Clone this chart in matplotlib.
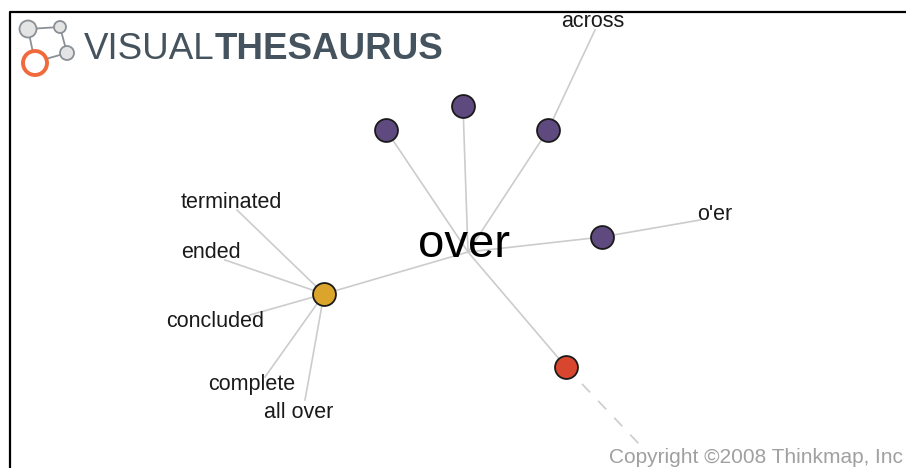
import matplotlib.pyplot as plt
from matplotlib.patches import Circle

plt.rcParams['font.family'] = ['Liberation Sans', 'DejaVu Sans']

# word graph data (pixel coords, y down)
center_word = "over"
center_xy = (468, 252)

node_x = [386, 463, 548, 602, 324, 566]
node_y = [130, 106, 130, 237, 294, 367]
node_colors = ["#5e4a7e", "#5e4a7e", "#5e4a7e", "#5e4a7e", "#dba52c", "#d9462f"]

# leaf words: (parent node index, label, label x, label baseline y, edge end x, edge end y)
leaf_parent = [2, 3, 4, 4, 4, 4, 4]
leaf_words = ["across", "o'er", "terminated", "ended", "concluded", "complete", "all over"]
leaf_x = [593, 715, 231, 211, 215, 252, 299]
leaf_y = [27, 220, 208, 258, 327, 390, 418]
edge_end_x = [595, 700, 237, 225, 250, 265, 305]
edge_end_y = [30, 220, 210, 260, 315, 377, 400]

# dashed edge leaving the red node
dash_end = (640, 445)

edge_col = "#cccccc"

fig = plt.figure(figsize=(9.06, 4.68), dpi=100)
ax = fig.add_axes([0, 0, 1, 1])
ax.set_xlim(0, 906)
ax.set_ylim(468, 0)
ax.axis('off')

# frame
ax.plot([10, 10, 906], [468, 12, 12], color='black', lw=1.6, solid_capstyle='butt', zorder=1)

# edges from centre
for x, y in zip(node_x, node_y):
    ax.plot([center_xy[0], x], [center_xy[1], y], color=edge_col, lw=1.2, zorder=2)

# edges to leaf words
for p, ex, ey in zip(leaf_parent, edge_end_x, edge_end_y):
    ax.plot([node_x[p], ex], [node_y[p], ey], color=edge_col, lw=1.2, zorder=2)

ax.plot([node_x[5], dash_end[0]], [node_y[5], dash_end[1]], color=edge_col, lw=1.2,
        dashes=(7, 7), zorder=2)

# nodes
for x, y, c in zip(node_x, node_y, node_colors):
    ax.plot(x, y, 'o', ms=16.5, mfc=c, mec='#1a1a1a', mew=1.3, zorder=4)

# labels
for w, x, y in zip(leaf_words, leaf_x, leaf_y):
    ax.text(x, y, w, ha='center', va='baseline', fontsize=15.5, color='#1a1a1a', zorder=5)

ax.text(464, 257, center_word, ha='center', va='baseline', fontsize=34, color='black', zorder=5)

# copyright
ax.text(609, 463, "Copyright \u00a92008 Thinkmap, Inc", ha='left', va='baseline',
        fontsize=15, color='#a0a0a0')

# logo
logo_gray = [(28, 29, 8.5), (60, 27, 6), (67, 53, 7)]
ax.plot([28, 60], [29, 27], color='#8a9096', lw=1.3, zorder=2)
ax.plot([60, 67], [27, 53], color='#8a9096', lw=1.3, zorder=2)
ax.plot([28, 35], [29, 62], color='#8a9096', lw=1.3, zorder=2)
ax.plot([35, 67], [62, 53], color='#8a9096', lw=1.3, zorder=2)
for cx, cy, r in logo_gray:
    ax.add_patch(Circle((cx, cy), r, fc='#e4e4e4', ec='#8a9096', lw=1.3, zorder=3))
ax.add_patch(Circle((35, 63), 12, fc='white', ec='#f06a3c', lw=2.8, zorder=3))

t1 = ax.text(84, 59, "VISUAL", ha='left', va='baseline', fontsize=26.5, color='#45535e')
ax.annotate("THESAURUS", xy=(1, 0), xycoords=t1, xytext=(0, 0), textcoords='offset points',
            ha='left', va='bottom', fontsize=26.5, fontweight='bold', color='#45535e')

fig.savefig("out.png", dpi=100)
